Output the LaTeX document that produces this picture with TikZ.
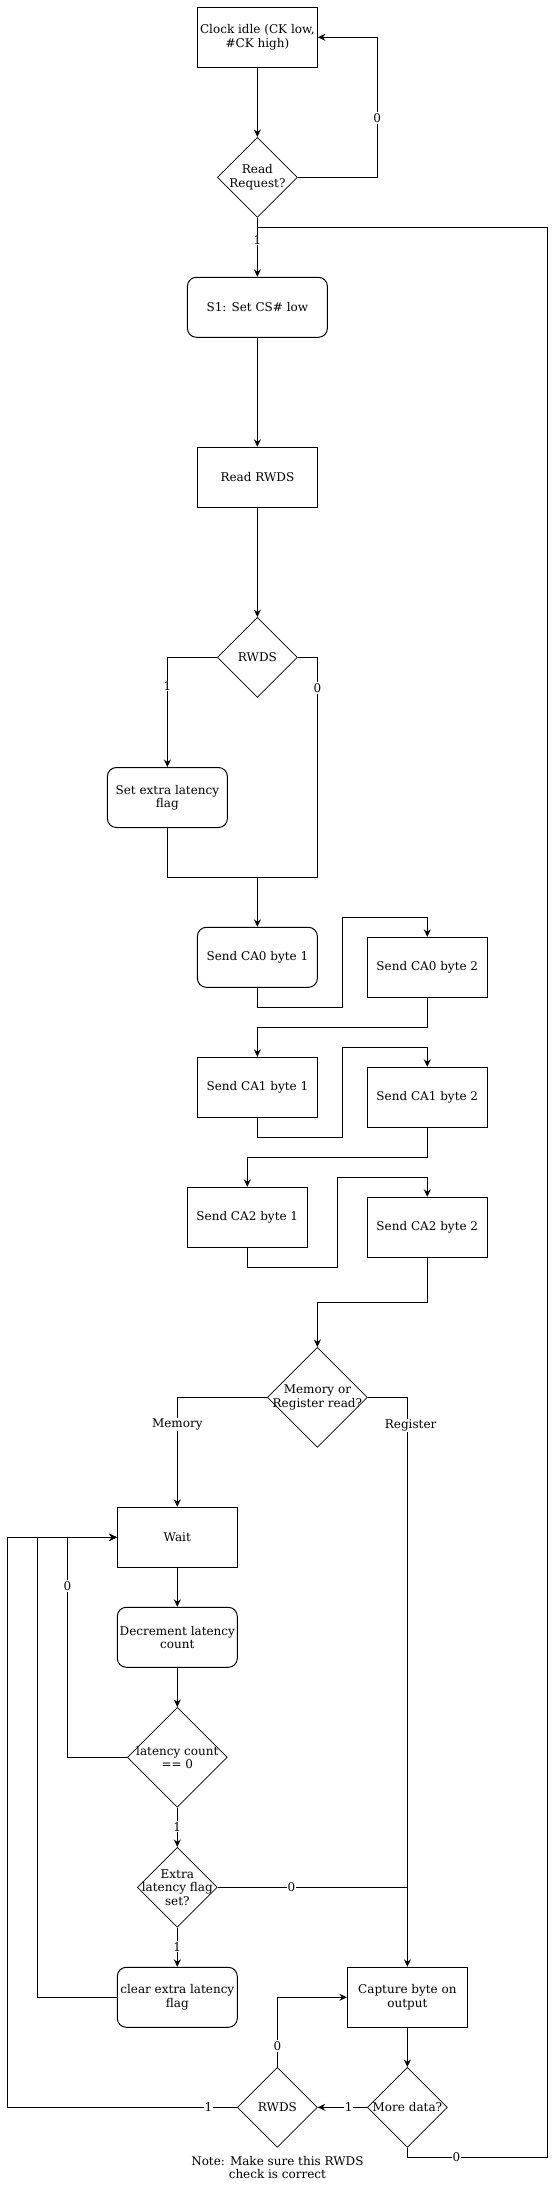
\documentclass[tikz,border=0pt]{standalone}
\usepackage{fontspec}
\setmainfont{DejaVu Serif}
\usetikzlibrary{arrows.meta,shapes.geometric}
\newcommand\dfont{\fontsize{12}{13.4}\selectfont}
\begin{document}
\begin{tikzpicture}[x=1pt,y=-1pt,
  box/.style={draw, line width=1pt, minimum width=120pt, minimum height=60pt, align=center, inner sep=0pt, font=\dfont},
  rbox/.style={box, rounded corners=9pt},
  dia/.style={draw, diamond, line width=0.7pt, inner sep=0pt, minimum width=80pt, minimum height=80pt},
  txt/.style={align=center, font=\dfont, inner sep=0pt},
  lbl/.style={fill=white, font=\dfont, inner sep=1pt},
  ln/.style={line width=1pt},
  arr/.style={ln, -{Stealth[length=7.5pt,width=7pt,inset=2.5pt]}}]
\useasboundingbox (0,0) rectangle (556,2198);

% nodes
\node[box] (clock) at (257.4,37.3) {Clock idle (CK low,\\\#CK high)};
\node[dia] (rr) at (257.4,177.3) {};
\node[txt] (rrT) at (rr) {Read\\Request?};
\node[rbox, minimum width=140pt] (s1) at (257.4,307.3) {S1: Set CS\# low};
\node[box] (rrwds) at (257.4,477.3) {Read RWDS};
\node[dia] (rwds) at (257.4,657.4) {};
\node[txt] (rwdsT) at (rwds) {RWDS};
\node[rbox] (setflag) at (167.4,797.5) {Set extra latency\\flag};
\node[rbox] (ca0a) at (257.4,957.3) {Send CA0 byte 1};
\node[box] (ca0b) at (427.3,967.3) {Send CA0 byte 2};
\node[box] (ca1a) at (257.4,1087.3) {Send CA1 byte 1};
\node[box] (ca1b) at (427.3,1097.3) {Send CA1 byte 2};
\node[box] (ca2a) at (247.3,1217.3) {Send CA2 byte 1};
\node[box] (ca2b) at (427.3,1227.3) {Send CA2 byte 2};
\node[dia, minimum width=100pt, minimum height=100pt] (mem) at (317.4,1397.3) {};
\node[txt] (memT) at (mem) {Memory or\\Register read?};
\node[box] (wait) at (177.3,1537.3) {Wait};
\node[rbox] (dec) at (177.3,1637.3) {Decrement latency\\count};
\node[dia, minimum width=100pt, minimum height=100pt] (lat) at (177.3,1757.3) {};
\node[txt] (latT) at (lat) {latency count\\== 0};
\node[dia] (extra) at (177.3,1887.3) {};
\node[txt] (extraT) at (extra) {Extra\\latency flag\\set?};
\node[rbox] (clear) at (177.3,1997.3) {clear extra latency\\flag};
\node[box] (cap) at (407.4,1997.3) {Capture byte on\\output};
\node[dia] (more) at (407.4,2107.3) {};
\node[txt] (moreT) at (more) {More data?};
\node[dia] (rwds2) at (277.4,2107.3) {};
\node[txt] (rwds2T) at (rwds2) {RWDS};
\node[txt] (note) at (277.4,2167.5) {Note: Make sure this RWDS\\check is correct};

\coordinate (join1) at (257.4,877);
\coordinate (jtop) at (257.4,227.3);

% connectors
\draw[arr] (clock.south) -- (rr.north);
\draw[arr] (rr.east) -- (377.3,177.3) -- (377.3,37.3) -- (clock.east);
\node[lbl] (l1) at (377.3,118) {0};
\draw[arr] (rr.south) -- (s1.north);
\node[lbl] (l2) at (257.4,240) {1};
\draw[arr] (s1.south) -- (rrwds.north);
\draw[arr] (rrwds.south) -- (rwds.north);
\draw[arr] (rwds.west) -| (setflag.north);
\node[lbl] (l3) at (167.4,686) {1};
\draw[ln] (rwds.east) -- (317.4,657.4) |- (join1);
\node[lbl] (l4) at (317.4,688) {0};
\draw[ln] (setflag.south) |- (join1);
\draw[arr] (join1) -- (ca0a.north);
\draw[arr] (ca0a.south) -- (257.4,1007) -- (342.2,1007) -- (342.2,917.3) -| (ca0b.north);
\draw[arr] (ca0b.south) -- (427.3,1027) -| (ca1a.north);
\draw[arr] (ca1a.south) -- (257.4,1137) -- (342.2,1137) -- (342.2,1047.3) -| (ca1b.north);
\draw[arr] (ca1b.south) -- (427.3,1157) -| (ca2a.north);
\draw[arr] (ca2a.south) -- (247.3,1267) -- (337.2,1267) -- (337.2,1177.3) -| (ca2b.north);
\draw[arr] (ca2b.south) -- (427.3,1302.3) -| (mem.north);
\draw[arr] (mem.west) -| (wait.north);
\node[lbl] (l5) at (177.3,1424.3) {Memory};
\draw[arr] (mem.east) -| (cap.north);
\node[lbl] (l6) at (410.6,1425.3) {Register};
\draw[arr] (wait.south) -- (dec.north);
\draw[arr] (dec.south) -- (lat.north);
\draw[arr] (lat.west) -- (67.4,1757.3) |- (wait.west);
\node[lbl] (l7) at (67.4,1586) {0};
\draw[arr] (lat.south) -- (extra.north);
\node[lbl] (l8) at (177.3,1826.7) {1};
\draw[ln] (extra.east) -- (407.4,1887.3);
\node[lbl] (l9) at (291.5,1887.3) {0};
\draw[arr] (extra.south) -- (clear.north);
\node[lbl] (l10) at (177.3,1946.7) {1};
\draw[arr] (clear.west) -- (37.2,1997.3) |- (wait.west);
\draw[arr] (cap.south) -- (more.north);
\draw[arr] (more.west) -- (rwds2.east);
\node[lbl] (l11) at (348.6,2107.3) {1};
\draw[arr] (rwds2.north) |- (cap.west);
\node[lbl] (l12) at (277.4,2046) {0};
\draw[arr] (rwds2.west) -- (7.8,2107.3) |- (wait.west);
\node[lbl] (l13) at (208.5,2107.3) {1};
\draw[ln] (more.south) -- (407.4,2157.3) -- (547.9,2157.3) -- (547.9,227.3) -- (jtop);
\node[lbl] (l14) at (456.4,2157.3) {0};
\end{tikzpicture}
\end{document}
